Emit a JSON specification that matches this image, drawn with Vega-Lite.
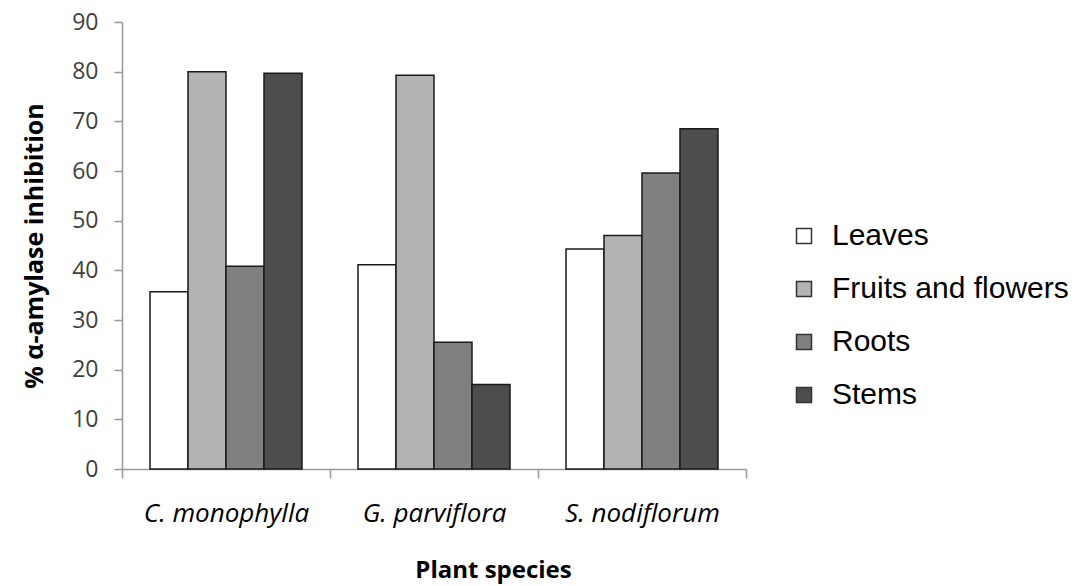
{
  "$schema": "https://vega.github.io/schema/vega-lite/v6.json",
  "autosize": "none",
  "width": 624,
  "height": 447,
  "padding": {"left": 122, "top": 22, "right": 340, "bottom": 117},
  "background": "white",
  "config": {"view": {"stroke": null}},
  "data": {"values": [
    {"species": "C. monophylla", "part": "Leaves", "value": 35.7},
    {"species": "C. monophylla", "part": "Fruits and flowers", "value": 80.0},
    {"species": "C. monophylla", "part": "Roots", "value": 40.8},
    {"species": "C. monophylla", "part": "Stems", "value": 79.7},
    {"species": "G. parviflora", "part": "Leaves", "value": 41.1},
    {"species": "G. parviflora", "part": "Fruits and flowers", "value": 79.3},
    {"species": "G. parviflora", "part": "Roots", "value": 25.5},
    {"species": "G. parviflora", "part": "Stems", "value": 17.0},
    {"species": "S. nodiflorum", "part": "Leaves", "value": 44.3},
    {"species": "S. nodiflorum", "part": "Fruits and flowers", "value": 47.0},
    {"species": "S. nodiflorum", "part": "Roots", "value": 59.6},
    {"species": "S. nodiflorum", "part": "Stems", "value": 68.5}
  ]},
  "mark": {"type": "bar", "stroke": "#1a1a1a", "strokeWidth": 1.5},
  "encoding": {
    "x": {
      "field": "species", "type": "nominal",
      "sort": ["C. monophylla", "G. parviflora", "S. nodiflorum"],
      "scale": {"paddingInner": 0, "paddingOuter": 0},
      "axis": {
        "title": "Plant species",
        "titleFont": "Open Sans", "titleFontSize": 24, "titleFontWeight": "bold", "titleColor": "#000000", "titlePadding": 32,
        "titleX": 371,
        "labelFont": "Open Sans", "labelFontSize": 26, "labelFontStyle": "italic", "labelColor": "#000000", "labelPadding": 22,
        "labelAngle": 0, "labelLimit": 400,
        "tickBand": "extent", "tickSize": 9, "tickColor": "#999999", "domainColor": "#999999", "domainWidth": 1.5, "tickWidth": 1.5
      }
    },
    "xOffset": {
      "field": "part", "type": "nominal",
      "sort": ["Leaves", "Fruits and flowers", "Roots", "Stems"],
      "scale": {"paddingInner": 0, "paddingOuter": 0.737}
    },
    "y": {
      "field": "value", "type": "quantitative",
      "scale": {"domain": [0, 90], "nice": false},
      "axis": {
        "title": "% α-amylase inhibition",
        "titleFont": "Open Sans", "titleFontSize": 25, "titleFontWeight": "bold", "titleColor": "#000000", "titlePadding": 24,
        "labelFont": "Open Sans", "labelFontSize": 23, "labelColor": "#404040", "labelPadding": 16,
        "values": [0, 10, 20, 30, 40, 50, 60, 70, 80, 90],
        "grid": false, "tickSize": 8, "tickColor": "#999999", "domainColor": "#999999", "domainWidth": 1.5, "tickWidth": 1.5
      }
    },
    "fill": {
      "field": "part", "type": "nominal",
      "sort": ["Leaves", "Fruits and flowers", "Roots", "Stems"],
      "scale": {"domain": ["Leaves", "Fruits and flowers", "Roots", "Stems"], "range": ["#ffffff", "#b3b3b3", "#808080", "#4d4d4d"]},
      "legend": {
        "title": null, "orient": "none", "legendX": 667, "legendY": 199,
        "symbolType": "square", "symbolSize": 225, "symbolStrokeColor": "#333333", "symbolStrokeWidth": 1.5,
        "labelFont": "Liberation Sans", "labelFontSize": 30, "labelColor": "#000000", "labelOffset": 13, "labelLimit": 400,
        "rowPadding": 23
      }
    }
  }
}
